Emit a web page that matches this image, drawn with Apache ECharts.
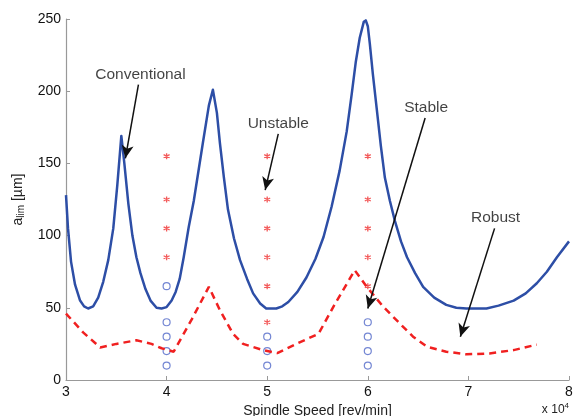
<!DOCTYPE html>
<html lang="en">
<head>
  <script src="https://cdn.jsdelivr.net/npm/echarts@6.0.0/dist/echarts.min.js"></script>
  <meta charset="UTF-8">
</head>
<body style="margin:0">
  <div id="lobeChart" style="width: 573px;height:416px;"></div>

  <script type="text/javascript">

    // spindle speed in 1e4 rev/min, a_lim in um
    var convSpeed = [3.00, 3.02, 3.05, 3.09, 3.14, 3.18, 3.22, 3.27, 3.32, 3.37, 3.42, 3.47, 3.51, 3.55,
                     3.58, 3.62, 3.66, 3.70, 3.74, 3.79, 3.84, 3.90, 3.95, 4.00, 4.05, 4.09, 4.13, 4.17, 4.22, 4.27, 4.36, 4.42, 4.46,
                     4.50, 4.53, 4.57, 4.61, 4.67, 4.73, 4.80, 4.86, 4.93, 4.99, 5.09, 5.15, 5.21, 5.30, 5.39, 5.48, 5.56, 5.64, 5.72, 5.79, 5.84, 5.88, 5.92, 5.96, 5.98,
                     6.00, 6.02, 6.05, 6.09, 6.13, 6.17, 6.22, 6.27, 6.33, 6.39, 6.47, 6.55, 6.66, 6.78, 6.88, 6.98, 7.18, 7.30, 7.45, 7.57, 7.68, 7.78, 7.88, 8.00];
    var convAlim  = [128, 105, 82, 66, 55, 51, 49.5, 51, 57, 68, 83, 105, 135, 169,
                     150, 122, 100, 85, 74, 63, 55, 50, 49.5, 50.5, 55, 61, 70, 85, 106, 124, 164, 190, 201,
                     185, 164, 140, 118, 98, 83, 70, 60, 53, 49.5, 49.5, 51, 54, 61, 71, 84, 99, 120, 145, 172, 198, 220, 237, 248, 249,
                     245, 233, 212, 187, 162, 140, 124, 110, 96, 85, 74, 64.5, 57, 52, 50, 49.5, 49.5, 51.5, 55, 60, 67, 75, 85, 96];

    var robustSpeed = [3.00, 3.17, 3.34, 3.50, 3.70, 3.85, 3.95, 4.07, 4.25, 4.42, 4.53, 4.66, 4.76, 4.96, 5.10, 5.29, 5.51, 5.66, 5.87, 5.99, 6.15, 6.32, 6.45, 6.59, 6.78, 6.98, 7.21, 7.45, 7.68];
    var robustAlim  = [46, 33, 22.5, 25, 27.5, 25, 22, 19.6, 42, 64.5, 48.4, 32, 25, 20.7, 18.6, 25, 32, 51, 76, 64.5, 51, 39, 30, 23, 19.6, 17.8, 18.4, 20.7, 24.5];

    var unstableSpeed = [4, 4, 4, 4, 5, 5, 5, 5, 5, 5, 6, 6, 6, 6, 6];
    var unstableAlim  = [155, 125, 105, 85, 155, 125, 105, 85, 65, 40, 155, 125, 105, 85, 65];

    var stableSpeed = [4, 4, 4, 4, 4, 5, 5, 5, 6, 6, 6, 6];
    var stableAlim  = [65, 40, 30, 20, 10, 30, 20, 10, 40, 30, 20, 10];

    var xTicks = [3, 4, 5, 6, 7, 8];
    var yTicks = [0, 50, 100, 150, 200, 250];

    // annotation text + arrow (from -> to), in data coords
    var noteText  = ['Conventional', 'Unstable', 'Stable', 'Robust'];
    var noteAt    = [[3.74, 211.5], [5.11, 177.7], [6.58, 188.8], [7.27, 112.7]];
    var arrowFrom = [[3.72, 204.5], [5.11, 170.5], [6.57, 181.5], [7.26, 105]];
    var arrowTo   = [[3.59, 153.5], [4.98, 131.5], [6.00, 49.5], [6.92, 30]];

    function zip(a, b) {
        return a.map(function (v, i) { return [v, b[i]]; });
    }

    var fontFam = '"Liberation Sans", Arial, sans-serif';

    function createLobeChart() {
        const chart = echarts.init(document.getElementById('lobeChart'));

        let option = {
            animation: false,
            textStyle: { fontFamily: fontFam },
            grid: { left: 66, right: 4, top: 19, bottom: 36, outerBoundsMode: 'none' },
            xAxis: {
                type: 'value',
                min: xTicks[0],
                max: xTicks[xTicks.length - 1],
                interval: 1,
                name: 'Spindle Speed [rev/min]',
                nameLocation: 'middle',
                nameGap: 16,
                nameTextStyle: { fontSize: 14, color: '#222', fontFamily: fontFam },
                axisLine: { lineStyle: { color: '#999', width: 1.2 } },
                axisTick: { inside: true, length: 4, lineStyle: { color: '#999' } },
                axisLabel: { fontSize: 14, color: '#111', margin: 5, fontFamily: fontFam },
                splitLine: { show: false }
            },
            yAxis: {
                type: 'value',
                min: yTicks[0],
                max: yTicks[yTicks.length - 1],
                interval: 50,
                name: '{a|a}{s|lim}{a| [µm]}',
                nameLocation: 'middle',
                nameGap: 38,
                nameTextStyle: {
                    fontFamily: fontFam,
                    rich: {
                        a: { fontSize: 14, color: '#222', fontFamily: fontFam },
                        s: { fontSize: 10, color: '#222', fontFamily: fontFam, padding: [7, 0, 0, 0] }
                    }
                },
                axisLine: { show: true, lineStyle: { color: '#999', width: 1.2 } },
                axisTick: { show: true, inside: true, length: 4, lineStyle: { color: '#999' } },
                axisLabel: { fontSize: 14, color: '#111', margin: 5, fontFamily: fontFam },
                splitLine: { show: false }
            },
            graphic: [
                {
                    type: 'text',
                    right: 4,
                    top: 402,
                    style: {
                        text: '{x|x 10}{p|4}',
                        rich: {
                            x: { fontSize: 12, fill: '#222', fontFamily: fontFam },
                            p: { fontSize: 8, fill: '#222', fontFamily: fontFam, padding: [0, 0, 8, 0] }
                        }
                    }
                }
            ],
            series: [
                {
                    name: 'Conventional',
                    type: 'line',
                    data: zip(convSpeed, convAlim),
                    showSymbol: false,
                    lineStyle: { color: '#2d4ea6', width: 2.5, join: 'round' }
                },
                {
                    name: 'Robust',
                    type: 'line',
                    data: zip(robustSpeed, robustAlim),
                    showSymbol: false,
                    lineStyle: { color: '#f02020', width: 2.5, type: [7, 5] }
                },
                {
                    name: 'Unstable',
                    type: 'scatter',
                    data: zip(unstableSpeed, unstableAlim),
                    symbol: 'path://M0,-5L0,5M-4.3,-2.5L4.3,2.5M-4.3,2.5L4.3,-2.5',
                    symbolSize: 6,
                    itemStyle: { color: 'rgba(0,0,0,0)', borderColor: '#f03030', borderWidth: 1.3 }
                },
                {
                    name: 'Stable',
                    type: 'scatter',
                    data: zip(stableSpeed, stableAlim),
                    symbol: 'circle',
                    symbolSize: 7,
                    itemStyle: { color: 'rgba(0,0,0,0)', borderColor: '#5068c8', borderWidth: 1.2 }
                },
                {
                    name: 'notes',
                    type: 'scatter',
                    silent: true,
                    symbolSize: 0,
                    data: noteAt.map(function (p, i) { return { value: p, name: noteText[i] }; }),
                    label: {
                        show: true,
                        position: 'inside',
                        formatter: '{b}',
                        fontSize: 15.5,
                        color: '#111',
                        fontFamily: fontFam
                    },
                    markLine: {
                        silent: true,
                        symbol: ['none', 'arrow'],
                        symbolSize: [9, 13],
                        label: { show: false },
                        lineStyle: { color: '#111', width: 1.5, type: 'solid' },
                        data: arrowFrom.map(function (p, i) {
                            return [{ coord: p }, { coord: arrowTo[i] }];
                        })
                    }
                }
            ]
        };

        chart.setOption(option);
    }
    createLobeChart();
  </script>
</body>
</html>
